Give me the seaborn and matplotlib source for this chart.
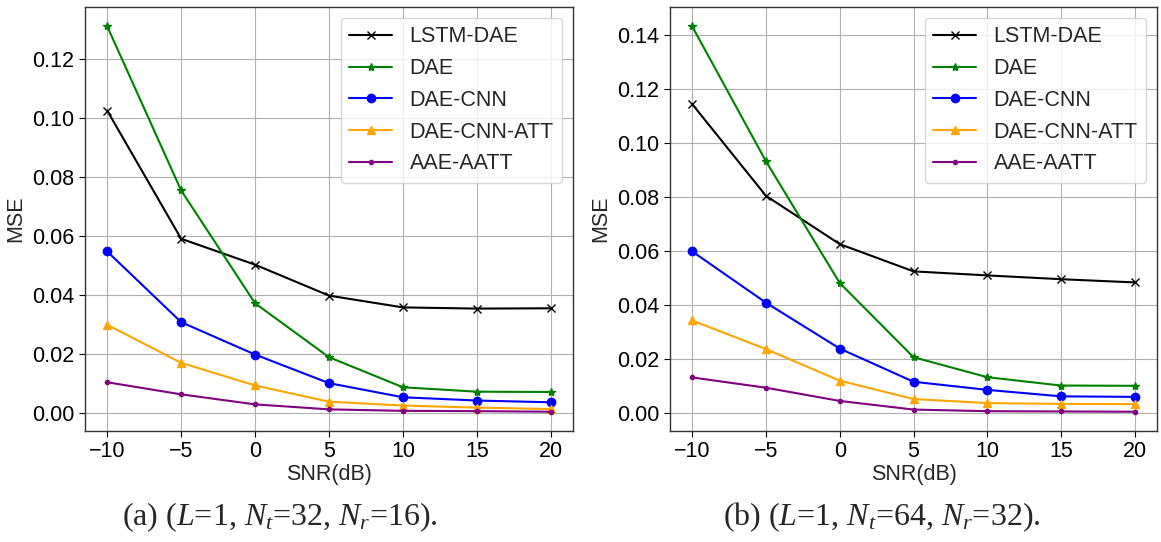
import numpy as np
import pandas as pd
import matplotlib
matplotlib.use("Agg")
import matplotlib.pyplot as plt
import seaborn as sns

snr = [-10, -5, 0, 5, 10, 15, 20]
methods = ["LSTM-DAE", "DAE", "DAE-CNN", "DAE-CNN-ATT", "AAE-AATT"]

# (a) L=1, Nt=32, Nr=16
mse_a_lstm_dae = [0.1025, 0.0590, 0.0502, 0.0397, 0.0357, 0.0353, 0.0354]
mse_a_dae = [0.1311, 0.0754, 0.0371, 0.0188, 0.0086, 0.0071, 0.0070]
mse_a_dae_cnn = [0.0547, 0.0307, 0.0197, 0.0100, 0.0052, 0.0041, 0.0035]
mse_a_dae_cnn_att = [0.0298, 0.0169, 0.0092, 0.0037, 0.0024, 0.0017, 0.0012]
mse_a_aae_aatt = [0.0103, 0.0062, 0.0028, 0.0011, 0.0006, 0.0005, 0.0003]

# (b) L=1, Nt=64, Nr=32
mse_b_lstm_dae = [0.1144, 0.0804, 0.0625, 0.0524, 0.0509, 0.0495, 0.0483]
mse_b_dae = [0.1432, 0.0932, 0.0481, 0.0206, 0.0132, 0.0101, 0.0100]
mse_b_dae_cnn = [0.0598, 0.0408, 0.0238, 0.0115, 0.0085, 0.0061, 0.0059]
mse_b_dae_cnn_att = [0.0342, 0.0236, 0.0119, 0.0051, 0.0036, 0.0033, 0.0032]
mse_b_aae_aatt = [0.0131, 0.0093, 0.0044, 0.0012, 0.0006, 0.0005, 0.0004]

captions = [r"(a) ($L$=1, $N_t$=32, $N_r$=16).",
            r"(b) ($L$=1, $N_t$=64, $N_r$=32)."]
caption_x = [280, 882]

panels = [
    [mse_a_lstm_dae, mse_a_dae, mse_a_dae_cnn, mse_a_dae_cnn_att, mse_a_aae_aatt],
    [mse_b_lstm_dae, mse_b_dae, mse_b_dae_cnn, mse_b_dae_cnn_att, mse_b_aae_aatt],
]

styles = {
    "LSTM-DAE": dict(color="black", marker="x", ms=6),
    "DAE": dict(color="green", marker="*", ms=6),
    "DAE-CNN": dict(color="blue", marker="o", ms=6),
    "DAE-CNN-ATT": dict(color="orange", marker="^", ms=6),
    "AAE-AATT": dict(color="purple", marker=".", ms=6),
}

sns.set_theme(style="ticks")
plt.rcParams["font.family"] = ["Liberation Sans", "DejaVu Sans"]
plt.rcParams["mathtext.fontset"] = "custom"
plt.rcParams["mathtext.rm"] = "Liberation Serif"
plt.rcParams["mathtext.it"] = "Liberation Serif:italic"
plt.rcParams["axes.edgecolor"] = "#333333"
plt.rcParams["axes.linewidth"] = 1.0

W, H = 1161, 542
fig = plt.figure(figsize=(W / 100, H / 100), dpi=100)

boxes = [(85, 7, 573, 431), (670, 7, 1157, 431)]
fs = 15.5

for (x0, y0, x1, y1), series, cap, cx in zip(boxes, panels, captions, caption_x):
    ax = fig.add_axes([x0 / W, 1 - y1 / H, (x1 - x0) / W, (y1 - y0) / H])
    for name, vals in zip(methods, series):
        st = styles[name]
        sns.lineplot(x=snr, y=vals, ax=ax, label=name, color=st["color"],
                     marker=st["marker"], markersize=st["ms"],
                     markeredgecolor=st["color"], markeredgewidth=1.0,
                     linewidth=1.5)
    ax.set_xticks(snr)
    ax.grid(True, color="#b0b0b0", linewidth=0.8)
    ax.tick_params(labelsize=fs, colors="black", length=4, width=0.8)
    ax.set_xlabel("SNR(dB)", fontsize=fs, labelpad=1)
    ax.set_ylabel("MSE", fontsize=fs)
    leg = ax.legend(loc="upper right", fontsize=fs, frameon=True,
                    fancybox=True, framealpha=0.8)
    leg.get_frame().set_edgecolor("#cccccc")
    fig.text(cx / W, 1 - 517 / H, cap, fontsize=23, ha="center", va="center",
             family="Liberation Serif")

fig.savefig("out.png", dpi=100)
